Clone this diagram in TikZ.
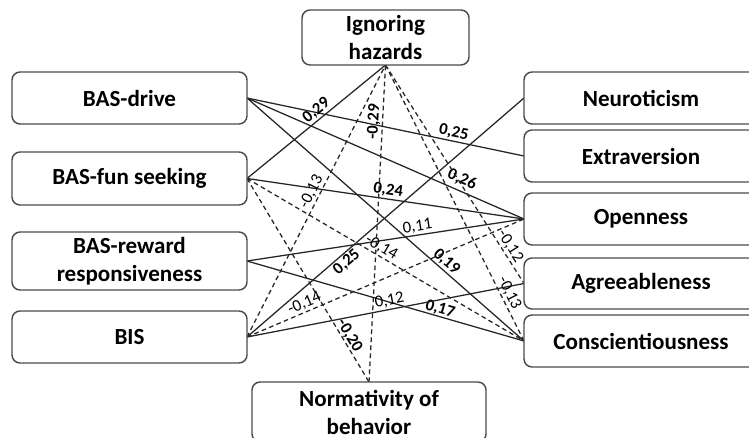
\documentclass[tikz,border=0pt]{standalone}
\usepackage{fontspec}
\setmainfont{Carlito}
\begin{document}
\begin{tikzpicture}[x=0.75pt,y=-0.75pt,
  box/.style={draw=black!70, line width=1.1pt, rounded corners=6pt, fill=white,
    inner sep=0pt, align=center, font=\fontsize{17.3}{21}\selectfont\bfseries},
  lbox/.style={box, minimum width=176.25pt, minimum height=39pt},
  rbox/.style={box, minimum width=175.5pt, minimum height=39pt},
  conn/.style={draw=black!85, line width=0.95pt},
  neg/.style={conn, dash pattern=on 3.5pt off 2.5pt},
  lab/.style={sloped, inner sep=1pt, font=\fontsize{12.5}{14}\selectfont},
  blab/.style={lab, font=\fontsize{12.5}{14}\selectfont\bfseries}
]
\useasboundingbox (0,0) rectangle (749,438);
\clip (0,0) rectangle (749,438);
\fill[white] (0,0) rectangle (749,438);

% connector end points
\coordinate (dE) at (247,98);
\coordinate (fE) at (247,178.5);
\coordinate (rE) at (247,261);
\coordinate (bE) at (247,337);
\coordinate (iS) at (385.5,65);
\coordinate (nW) at (524,98);
\coordinate (eW) at (524,156);
\coordinate (oW) at (524,219);
\coordinate (aW) at (524,283.5);
\coordinate (cW) at (524,341);
\coordinate (mN) at (369,382);

% solid (positive)
\path[conn] (dE) -- node[blab, pos=0.74, above] {0,25} (eW);
\path[conn] (dE) -- node[blab, pos=0.76, above=2pt] {0,26} (oW);
\path[conn] (dE) -- node[blab, pos=0.70, above] {0,19} (cW);
\path[conn] (fE) -- node[blab, pos=0.54, above] {0,29} (iS);
\path[conn] (fE) -- node[blab, pos=0.505, above] {0,24} (oW);
\path[conn] (rE) -- node[lab, pos=0.62, above] {0,11} (oW);
\path[conn] (rE) -- node[blab, pos=0.69, above=-1pt] {0,17} (cW);
\path[conn] (bE) -- node[blab, pos=0.34, below] {0,25} (nW);
\path[conn] (bE) -- node[lab, pos=0.52, above] {0,12} (aW);

% dashed (negative)
\path[neg] (bE) -- node[lab, pos=0.52, above] {-0,13} (iS);
\path[neg] (mN) -- node[blab, pos=0.82, above] {-0,29} (iS);
\path[neg] (iS) -- node[lab, pos=0.85, above] {-0,12} (aW);
\path[neg] (iS) -- node[lab, pos=0.84, above] {-0,13} (cW);
\path[neg] (fE) -- node[blab, pos=0.79, above=-1pt] {-0,20} (mN);
\path[neg] (fE) -- node[lab, pos=0.47, above] {-0,14} (cW);
\path[neg] (bE) -- node[lab, pos=0.22, above] {-0,14} (oW);

% boxes
\node[lbox] (drive) at (129.5,98) {BAS-drive};
\node[lbox, minimum height=39.75pt] (fun) at (129.5,178.5) {BAS-fun seeking};
\node[lbox, minimum height=43.5pt] (reward) at (129.5,261) {BAS-reward\\responsiveness};
\node[lbox] (bis) at (129.5,337) {BIS};
\node[box, minimum width=125.25pt, minimum height=41.25pt] (ign) at (385.5,37.5) {Ignoring\\hazards};
\node[rbox] (neur) at (641,98) {Neuroticism};
\node[rbox] (extr) at (641,156) {Extraversion};
\node[rbox] (open) at (641,219) {Openness};
\node[rbox, minimum height=38.25pt] (agree) at (641,283.5) {Agreeableness};
\node[rbox] (consc) at (641,341) {Conscientiousness};
\node[box, minimum width=175.5pt, minimum height=45pt] (norm) at (369,412) {Normativity of\\behavior};
\end{tikzpicture}
\end{document}
